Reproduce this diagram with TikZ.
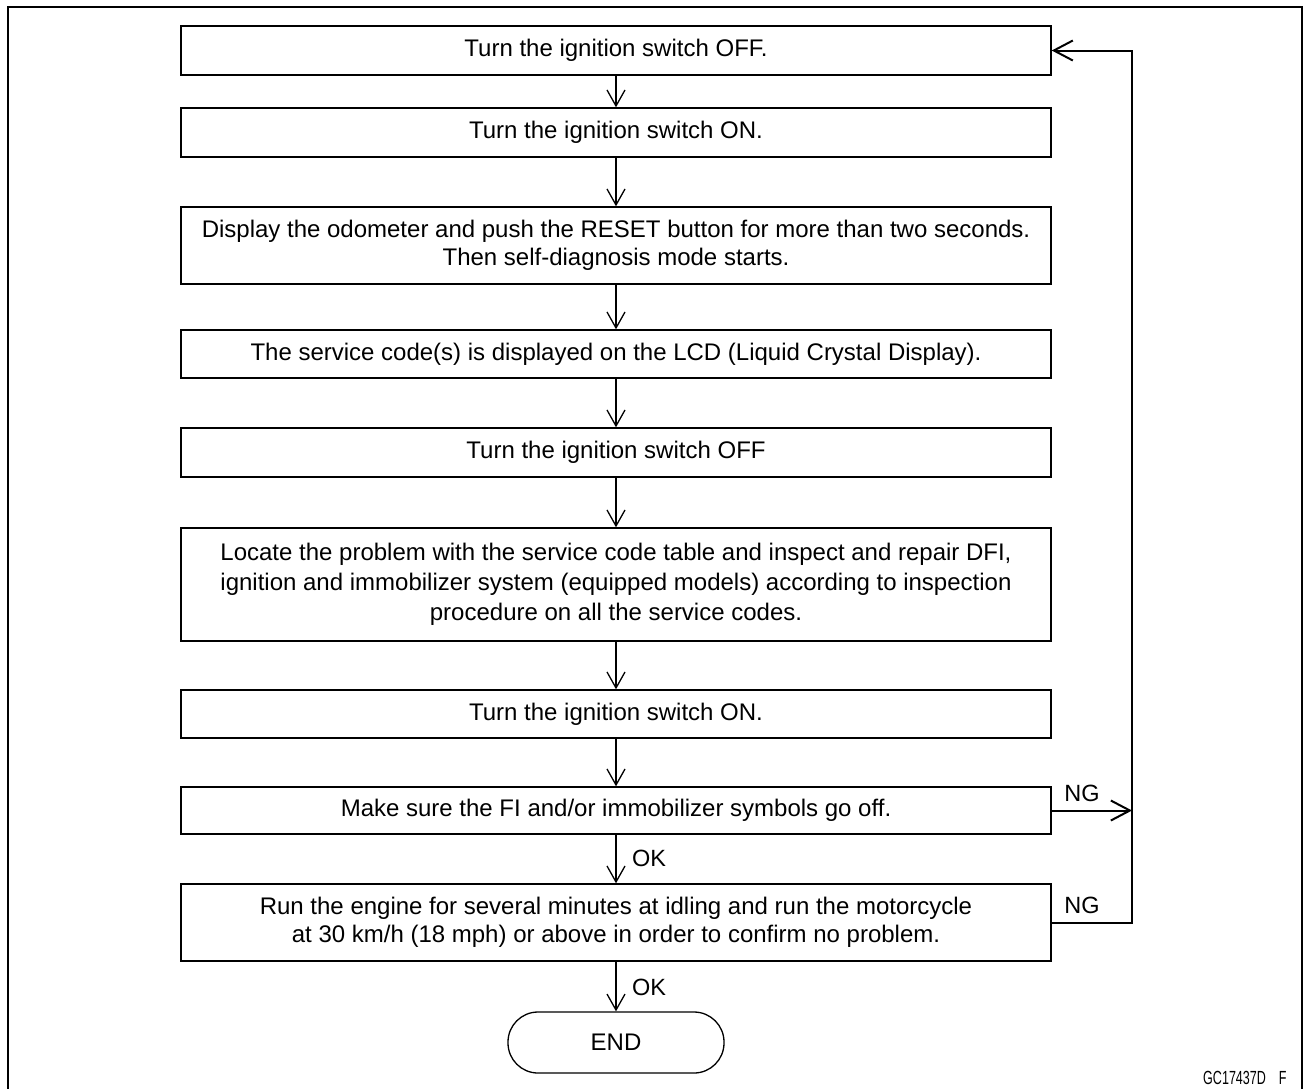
\documentclass[tikz,border=0pt]{standalone}
\usepackage{fontspec}
\usepackage{graphicx}
\setmainfont{Liberation Sans}
\usetikzlibrary{arrows.meta}
\begin{document}
\begin{tikzpicture}[x=1pt,y=-1pt,
  box/.style={draw, line width=1.4pt, minimum width=870pt, align=center, inner sep=0pt,
    font=\fontsize{24}{28.5}\selectfont},
  endbox/.style={draw, line width=1.3pt, rounded corners=30pt, minimum width=216pt,
    minimum height=61pt, inner sep=0pt, font=\fontsize{24}{28.5}\selectfont},
  flow/.style={line width=1.3pt, -{Straight Barb[length=16pt,width=18pt]}},
  fbarrow/.style={line width=2pt, -{Straight Barb[length=19pt,width=20pt]}},
  lab/.style={inner sep=0pt, font=\fontsize{23.5}{26}\selectfont}]
\useasboundingbox (0,0) rectangle (1308,1088);
\fill[white] (0,0) rectangle (1308,1088);
\draw[line width=2.6pt] (8,1095) -- (8,7) -- (1302,7) -- (1302,1095);

\node[box, minimum height=49pt]  (b1) at (616,50.5)  {Turn the ignition switch OFF.};
\node[box, minimum height=49pt]  (b2) at (616,132.5) {Turn the ignition switch ON.};
\node[box, minimum height=77pt]  (b3) at (616,245.5) {Display the odometer and push the RESET button for more than two seconds.\\Then self-diagnosis mode starts.};
\node[box, minimum height=48pt]  (b4) at (616,354)   {The service code(s) is displayed on the LCD (Liquid Crystal Display).};
\node[box, minimum height=49pt]  (b5) at (616,452.5) {Turn the ignition switch OFF};
\node[box, minimum height=113pt, font=\fontsize{24}{30}\selectfont] (b6) at (616,584.5) {Locate the problem with the service code table and inspect and repair DFI,\\ignition and immobilizer system (equipped models) according to inspection\\procedure on all the service codes.};
\node[box, minimum height=48pt]  (b7) at (616,714)   {Turn the ignition switch ON.};
\node[box, minimum height=47pt]  (b8) at (616,810.5) {Make sure the FI and/or immobilizer symbols go off.};
\node[box, minimum height=77pt]  (b9) at (616,922.5) {Run the engine for several minutes at idling and run the motorcycle\\at 30 km/h (18 mph) or above in order to confirm no problem.};
\node[endbox] (e) at (616,1042.5) {END};

\draw[flow] (b1.south) -- (b2.north);
\draw[flow] (b2.south) -- (b3.north);
\draw[flow] (b3.south) -- (b4.north);
\draw[flow] (b4.south) -- (b5.north);
\draw[flow] (b5.south) -- (b6.north);
\draw[flow] (b6.south) -- (b7.north);
\draw[flow] (b7.south) -- (b8.north);
\draw[flow] (b8.south) -- (b9.north);
\draw[flow] (b9.south) -- (e.north);

\coordinate (fbx) at (1132,0);
\draw[fbarrow] (b9.east) -- (b9.east -| fbx) -- (b1.east -| fbx) -- (b1.east);
\draw[fbarrow] (b8.east) -- (b8.east -| fbx);

\node[lab, anchor=west] (ok1) at (632,858) {OK};
\node[lab, anchor=west] (ok2) at (632,987) {OK};
\node[lab] (ng1) at (1082,793) {NG};
\node[lab] (ng2) at (1082,905) {NG};

\node[anchor=west, inner sep=0pt, font=\fontsize{19}{21}\selectfont] (code) at (1203,1078)
  {\scalebox{0.66}[1]{GC17437D}\hspace{13pt}\scalebox{0.66}[1]{F}};
\end{tikzpicture}
\end{document}
